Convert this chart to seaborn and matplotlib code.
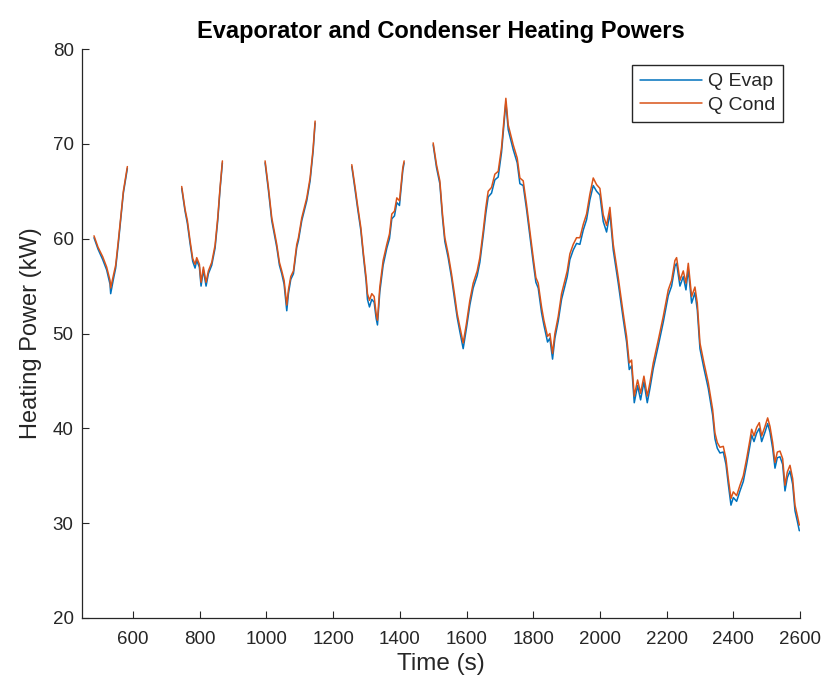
import numpy as np
import pandas as pd
import matplotlib
matplotlib.use("Agg")
import matplotlib.pyplot as plt
import seaborn as sns

# ---- data ----
seg1_t = [483, 495, 509, 521, 531, 533, 541, 548, 556, 563, 571, 583]
seg1_cond = [60.3, 59.1, 58.1, 57.0, 55.6, 54.8, 56.1, 57.2, 59.8, 62.2, 65.0, 67.6]
seg1_evap = [60.1, 58.9, 57.8, 56.7, 55.2, 54.2, 55.7, 56.9, 59.5, 62.0, 64.8, 67.4]

seg2_t = [746, 756, 763, 771, 779, 786, 791, 799, 804, 811, 819, 826, 836, 846, 854, 861, 868]
seg2_cond = [65.5, 63.1, 61.9, 59.8, 57.9, 57.3, 58.0, 57.3, 55.4, 57.0, 55.4, 56.6, 57.5, 59.3, 62.2, 65.4, 68.2]
seg2_evap = [65.3, 62.9, 61.6, 59.5, 57.6, 56.9, 57.7, 57.0, 55.0, 56.7, 55.0, 56.3, 57.2, 59.0, 61.9, 65.2, 68.0]

seg3_t = [996, 1006, 1016, 1031, 1039, 1046, 1053, 1061, 1066, 1073, 1081, 1091, 1096, 1106, 1121, 1131, 1140, 1146]
seg3_cond = [68.2, 65.4, 62.2, 59.4, 57.5, 56.6, 55.6, 53.0, 54.6, 56.0, 56.6, 59.4, 60.1, 62.2, 64.3, 66.4, 69.5, 72.4]
seg3_evap = [68.0, 65.1, 61.9, 59.1, 57.2, 56.3, 55.2, 52.4, 54.2, 55.7, 56.3, 59.1, 59.8, 61.9, 64.0, 66.1, 69.2, 72.2]

seg4_t = [1256, 1266, 1273, 1283, 1291, 1299, 1303, 1309, 1316, 1323, 1329, 1333, 1340, 1350, 1361, 1369,
          1376, 1384, 1391, 1399, 1403, 1409, 1413]
seg4_cond = [67.8, 65.4, 63.6, 61.2, 58.4, 55.9, 54.2, 53.5, 54.2, 53.9, 52.1, 51.4, 54.9, 57.7, 59.4, 60.5,
             62.6, 62.9, 64.3, 64.0, 65.4, 67.5, 68.2]
seg4_evap = [67.6, 65.1, 63.3, 60.9, 58.1, 55.5, 53.6, 52.8, 53.6, 53.3, 51.6, 50.9, 54.4, 57.2, 59.0, 60.0,
             62.1, 62.4, 63.8, 63.5, 65.0, 67.2, 68.0]

seg5_t = [1500, 1510, 1520, 1528, 1535, 1545, 1555, 1565, 1572, 1580,
          1590, 1600, 1610, 1620, 1632, 1640, 1650, 1658, 1665, 1675,
          1685, 1695, 1705, 1718, 1725, 1740, 1752, 1760, 1770, 1780,
          1790, 1800, 1808, 1815, 1825, 1832, 1843, 1850, 1858, 1865,
          1875, 1885, 1895, 1902, 1910, 1920, 1930, 1940, 1950, 1960,
          1970, 1980, 1990, 2000, 2010, 2020, 2030, 2040, 2055, 2070,
          2080, 2088, 2095, 2103, 2113, 2122, 2132, 2142, 2150, 2160,
          2175, 2190, 2205, 2215, 2225, 2230, 2240, 2250, 2258, 2265,
          2275, 2285, 2292, 2300, 2312, 2325, 2338, 2345, 2352, 2360,
          2370, 2378, 2385, 2393, 2400, 2410, 2420, 2430, 2440, 2450,
          2455, 2462, 2470, 2478, 2485, 2495, 2503, 2510, 2518, 2525,
          2532, 2540, 2548, 2555, 2562, 2570, 2578, 2585, 2592, 2598]
seg5_cond = [70.1, 67.8, 66.1, 62.6, 60.1, 58.4, 56.3, 53.9, 52.1, 50.7,
             49.0, 51.1, 53.5, 55.3, 56.6, 58.0, 60.8, 63.3, 65.0, 65.4,
             66.8, 67.1, 69.6, 74.8, 72.0, 69.9, 68.5, 66.4, 66.1, 63.6,
             60.8, 58.0, 55.9, 55.3, 52.8, 51.4, 49.7, 50.0, 47.9, 50.0,
             51.8, 54.2, 55.6, 56.6, 58.4, 59.4, 60.1, 60.1, 61.5, 62.6,
             64.7, 66.4, 65.7, 65.3, 62.5, 61.4, 63.3, 59.4, 55.9, 52.1,
             49.7, 46.9, 47.2, 43.4, 45.1, 43.7, 45.5, 43.4, 44.8, 46.9,
             49.3, 51.8, 54.6, 55.6, 57.7, 58.0, 55.6, 56.6, 55.3, 57.4,
             53.9, 54.9, 53.2, 49.0, 46.9, 44.8, 42.0, 39.5, 38.5, 38.0,
             38.1, 36.8, 34.7, 32.6, 33.3, 32.9, 34.0, 35.0, 36.8, 38.8,
             39.9, 39.2, 40.1, 40.6, 39.2, 40.2, 41.1, 40.2, 38.5, 36.4,
             37.5, 37.6, 36.8, 34.0, 35.4, 36.1, 34.7, 31.9, 30.8, 29.8]
seg5_evap = [69.9, 67.5, 65.8, 62.2, 59.7, 58.0, 55.9, 53.4, 51.7, 50.2,
             48.4, 50.6, 53.0, 54.8, 56.1, 57.5, 60.3, 62.7, 64.4, 64.8,
             66.2, 66.5, 69.1, 74.4, 71.5, 69.4, 68.0, 65.8, 65.6, 63.1,
             60.3, 57.5, 55.4, 54.8, 52.2, 50.9, 49.1, 49.5, 47.3, 49.5,
             51.3, 53.6, 55.0, 56.0, 57.8, 58.8, 59.5, 59.4, 60.9, 62.0,
             64.1, 65.6, 65.0, 64.6, 61.8, 60.7, 62.7, 58.8, 55.3, 51.5,
             49.1, 46.2, 46.6, 42.7, 44.5, 43.0, 44.9, 42.7, 44.2, 46.3,
             48.7, 51.2, 54.0, 55.0, 57.1, 57.4, 55.0, 56.0, 54.6, 56.8,
             53.2, 54.3, 52.5, 48.4, 46.3, 44.2, 41.4, 38.9, 37.9, 37.4,
             37.5, 36.2, 34.1, 31.9, 32.7, 32.3, 33.4, 34.4, 36.2, 38.2,
             39.3, 38.6, 39.5, 40.0, 38.6, 39.6, 40.5, 39.6, 37.9, 35.8,
             36.9, 37.0, 36.2, 33.4, 34.8, 35.5, 34.1, 31.3, 30.2, 29.2]

series_names = ["Q Evap", "Q Cond"]
title_text = "Evaporator and Condenser Heating Powers"
x_label = "Time (s)"
y_label = "Heating Power (kW)"
x_ticks = [600, 800, 1000, 1200, 1400, 1600, 1800, 2000, 2200, 2400, 2600]
y_ticks = [20, 30, 40, 50, 60, 70, 80]

# ---- build long table ----
rows = []
segments = [(seg1_t, seg1_evap, seg1_cond), (seg2_t, seg2_evap, seg2_cond),
            (seg3_t, seg3_evap, seg3_cond), (seg4_t, seg4_evap, seg4_cond),
            (seg5_t, seg5_evap, seg5_cond)]
for k, (ts, ev, co) in enumerate(segments):
    assert len(ts) == len(ev) == len(co), k
    for t, e, c in zip(ts, ev, co):
        rows.append({"t": t, "v": e, "series": series_names[0], "seg": k})
        rows.append({"t": t, "v": c, "series": series_names[1], "seg": k})
df = pd.DataFrame(rows)

sns.set_theme(style="ticks")
plt.rcParams["font.family"] = ["Liberation Sans", "DejaVu Sans"]

fig = plt.figure(figsize=(8.28, 6.88), dpi=100)
ax = fig.add_axes([82 / 828, 1 - 618 / 688, (800 - 82) / 828, (618 - 49) / 688])

palette = {"Q Evap": "#0072BD", "Q Cond": "#D95319"}
sns.lineplot(data=df, x="t", y="v", hue="series", units="seg", estimator=None,
             palette=palette, hue_order=series_names, linewidth=1.1, ax=ax, sort=False)

ax.set_xlim(447, 2600)
ax.set_ylim(20, 80)
ax.set_xticks(x_ticks)
ax.set_yticks(y_ticks)
ax.tick_params(direction="in", length=5, width=0.8, colors="#262626", labelsize=13.5)
ax.tick_params(axis="x", pad=9)
ax.tick_params(axis="y", pad=6)
for s in ["top", "right"]:
    ax.spines[s].set_visible(False)
for s in ["left", "bottom"]:
    ax.spines[s].set_color("#262626")
    ax.spines[s].set_linewidth(0.9)

ax.set_xlabel(x_label, fontsize=17.5, color="#262626", labelpad=4)
ax.set_ylabel(y_label, fontsize=17, color="#262626", labelpad=8)
ax.set_title(title_text, fontsize=17, fontweight="bold", color="#000000", pad=8)

ax.legend(loc="upper right", bbox_to_anchor=(783 / 828, 1 - 65 / 688),
          bbox_transform=fig.transFigure, borderaxespad=0, fontsize=14, frameon=True,
          fancybox=False, edgecolor="#262626", framealpha=1, handlelength=3.2,
          handletextpad=0.3, borderpad=0.4, labelspacing=0.3, title=None)

fig.savefig("out.png", dpi=100)
